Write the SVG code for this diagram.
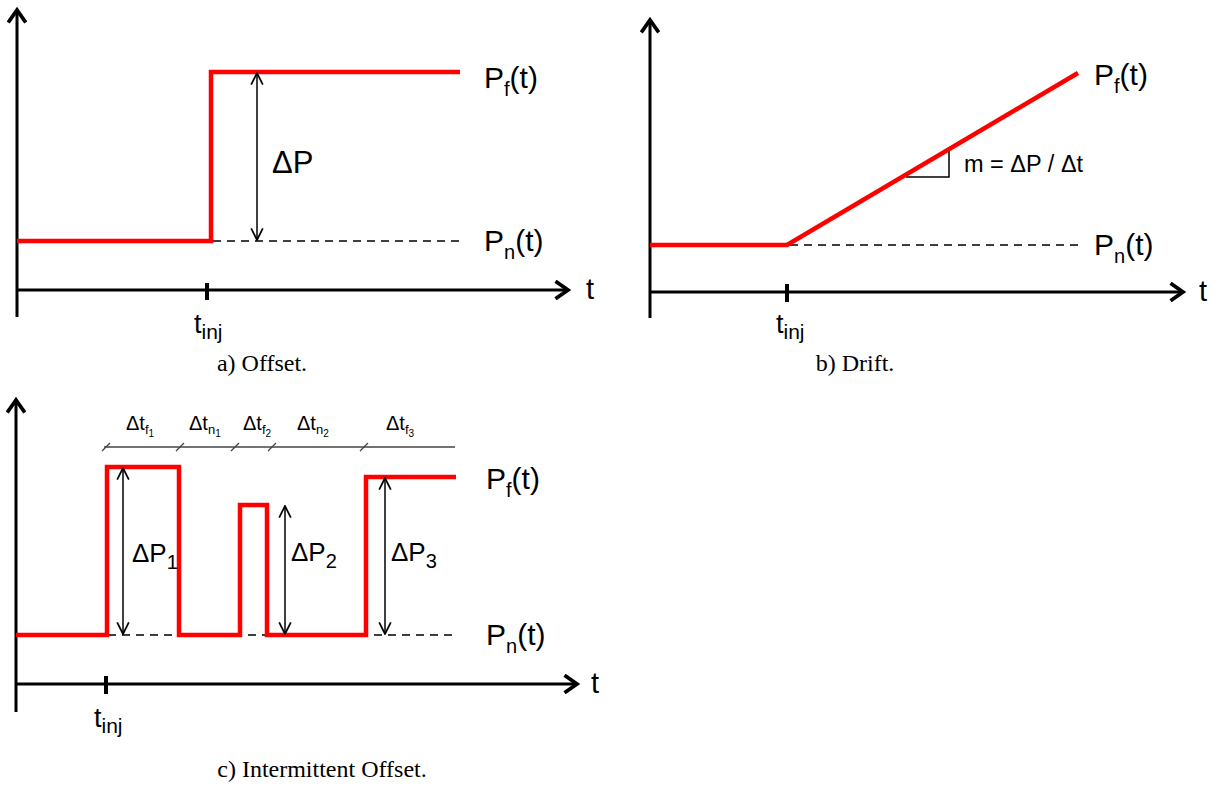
<svg xmlns="http://www.w3.org/2000/svg" width="1219" height="792" viewBox="0 0 1219 792">
<style>
.axis{stroke:#000;stroke-width:3;fill:none}
.tick{stroke:#000;stroke-width:4}
.sig{stroke:#f00;stroke-width:4.5;fill:none;stroke-linejoin:miter}
.dash{stroke:#000;stroke-width:1.5;stroke-dasharray:8,6;fill:none}
.dim{stroke:#000;stroke-width:1.5;fill:none}
.tl{stroke:#444;stroke-width:1.3;fill:none}
.lbl{font-family:"Liberation Sans",Arial,sans-serif;font-size:30px;fill:#000}
.dp{font-family:"Liberation Sans",Arial,sans-serif;font-size:26px;fill:#000}
.tax{font-family:"Liberation Sans",Arial,sans-serif;font-size:29px;fill:#000}
.tinj{font-family:"Liberation Sans",Arial,sans-serif;font-size:27px;fill:#000}
.slope{font-family:"Liberation Sans",Arial,sans-serif;font-size:23.5px;fill:#000}
.sm{font-family:"Liberation Sans",Arial,sans-serif;font-size:20px;fill:#000}
.cap{font-family:"Liberation Serif","Times New Roman",serif;font-size:24px;fill:#000;text-anchor:middle}
</style>
<defs>
<marker id="ax" markerUnits="userSpaceOnUse" markerWidth="20" markerHeight="20" refX="12" refY="8" orient="auto" viewBox="0 0 16 16">
<path d="M2,1 L12,8 L2,15" fill="none" stroke="#000" stroke-width="3"/>
</marker>
<marker id="da" markerUnits="userSpaceOnUse" markerWidth="14" markerHeight="14" refX="11" refY="6" orient="auto-start-reverse" viewBox="0 0 12 12">
<path d="M1,1 L11,6 L1,11" fill="none" stroke="#000" stroke-width="1.5"/>
</marker>
</defs>

<g id="panel-a">
<line class="axis" x1="17" y1="317" x2="17" y2="10" marker-end="url(#ax)"/>
<line class="axis" x1="17" y1="290" x2="568" y2="290" marker-end="url(#ax)"/>
<line class="tick" x1="207" y1="283" x2="207" y2="300"/>
<line class="dash" x1="213" y1="241" x2="460" y2="241"/>
<polyline class="sig" points="17,241 211,241 211,72 460,72"/>
<line class="dim" x1="257" y1="73" x2="257" y2="240" marker-start="url(#da)" marker-end="url(#da)"/>
<text class="lbl" x="272" y="173" style="font-size:31px">ΔP</text>
<text class="lbl" x="484" y="88">P<tspan font-size="20" dy="8">f</tspan><tspan dy="-8">(t)</tspan></text>
<text class="lbl" x="484" y="251">P<tspan font-size="20" dy="8">n</tspan><tspan dy="-8">(t)</tspan></text>
<text class="tax" x="586" y="299">t</text>
<text class="tinj" x="194" y="333">t<tspan font-size="21" dy="6">inj</tspan></text>
<text class="cap" x="262" y="371">a) Offset.</text>
</g>

<g id="panel-b">
<line class="axis" x1="650" y1="318" x2="650" y2="20" marker-end="url(#ax)"/>
<line class="axis" x1="650" y1="292" x2="1183" y2="292" marker-end="url(#ax)"/>
<line class="tick" x1="787" y1="284" x2="787" y2="302"/>
<line class="dash" x1="790" y1="245" x2="1078" y2="245"/>
<polyline class="dim" points="906,177 949,177 949,150" stroke-width="2"/>
<polyline class="sig" points="650,245 787,245 1078,73"/>
<text class="slope" x="964" y="172">m = ΔP / Δt</text>
<text class="lbl" x="1094" y="85">P<tspan font-size="20" dy="8">f</tspan><tspan dy="-8">(t)</tspan></text>
<text class="lbl" x="1094" y="255">P<tspan font-size="20" dy="8">n</tspan><tspan dy="-8">(t)</tspan></text>
<text class="tax" x="1199" y="301">t</text>
<text class="tinj" x="776" y="333">t<tspan font-size="21" dy="6">inj</tspan></text>
<text class="cap" x="855" y="371">b) Drift.</text>
</g>

<g id="panel-c">
<line class="axis" x1="16" y1="712" x2="16" y2="400" marker-end="url(#ax)"/>
<line class="axis" x1="16" y1="684" x2="577" y2="684" marker-end="url(#ax)"/>
<line class="tick" x1="106" y1="676" x2="106" y2="694"/>
<line class="dash" x1="108" y1="635" x2="458" y2="635"/>
<polyline class="sig" points="16,635 107,635 107,467 179,467 179,635 240,635 240,505 267,505 267,635 366,635 366,477 456,477"/>
<line class="dim" x1="123" y1="468" x2="123" y2="634" marker-start="url(#da)" marker-end="url(#da)"/>
<line class="dim" x1="285" y1="506" x2="285" y2="634" marker-start="url(#da)" marker-end="url(#da)"/>
<line class="dim" x1="385" y1="478" x2="385" y2="634" marker-start="url(#da)" marker-end="url(#da)"/>
<text class="dp" x="132" y="562">ΔP<tspan font-size="20" dy="7">1</tspan></text>
<text class="dp" x="291" y="561">ΔP<tspan font-size="20" dy="7">2</tspan></text>
<text class="dp" x="391" y="561">ΔP<tspan font-size="20" dy="7">3</tspan></text>
<text class="lbl" x="486" y="489">P<tspan font-size="20" dy="8">f</tspan><tspan dy="-8">(t)</tspan></text>
<text class="lbl" x="486" y="645">P<tspan font-size="20" dy="8">n</tspan><tspan dy="-8">(t)</tspan></text>
<text class="tax" x="591" y="693">t</text>
<text class="tinj" x="94" y="727">t<tspan font-size="21" dy="6">inj</tspan></text>
<line class="tl" x1="104" y1="447" x2="455" y2="447"/>
<g class="tl">
<line x1="102" y1="451" x2="110" y2="443"/>
<line x1="176" y1="451" x2="184" y2="443"/>
<line x1="231" y1="451" x2="239" y2="443"/>
<line x1="268" y1="451" x2="276" y2="443"/>
<line x1="360" y1="451" x2="368" y2="443"/>
</g>
<text class="sm" x="126" y="430">Δt<tspan font-size="13" dy="4">f</tspan><tspan font-size="10" dy="3">1</tspan></text>
<text class="sm" x="189" y="430">Δt<tspan font-size="13" dy="4">n</tspan><tspan font-size="10" dy="3">1</tspan></text>
<text class="sm" x="243" y="430">Δt<tspan font-size="13" dy="4">f</tspan><tspan font-size="10" dy="3">2</tspan></text>
<text class="sm" x="297" y="430">Δt<tspan font-size="13" dy="4">n</tspan><tspan font-size="10" dy="3">2</tspan></text>
<text class="sm" x="386" y="430">Δt<tspan font-size="13" dy="4">f</tspan><tspan font-size="10" dy="3">3</tspan></text>
<text class="cap" x="322" y="777">c) Intermittent Offset.</text>
</g>
</svg>
